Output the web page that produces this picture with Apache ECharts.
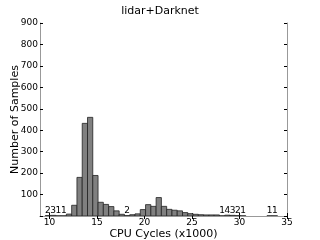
<!DOCTYPE html>
<html>
<head>
<meta charset="utf-8">
<script src="https://cdn.jsdelivr.net/npm/echarts@6/dist/echarts.min.js"></script>
<style>html,body{margin:0;padding:0;background:#fff}#c{width:320px;height:240px}</style>
</head>
<body>
<div id="c"></div>
<script>
// Histogram: 45 bins over [9, 34] (x1000 CPU cycles)
var binStart = 9;
var binEnd = 34;
var counts = [0, 2, 3, 1, 1, 9, 50, 180, 432, 460, 189, 64, 54, 44, 24, 8, 2, 6, 10, 30,
              53, 45, 86, 45, 31, 27, 24, 16, 11, 8, 6, 5, 5, 5, 1, 4, 3, 2, 1, 0,
              0, 0, 0, 1, 1];
var xTicks = [10, 15, 20, 25, 30, 35];
var yTicks = [100, 200, 300, 400, 500, 600, 700, 800, 900];
var titleText = 'lidar+Darknet';
var xName = 'CPU Cycles (x1000)';
var yName = 'Number of Samples';

var binW = (binEnd - binStart) / counts.length;
var data = counts.map(function (c, i) {
  return [binStart + i * binW, binStart + (i + 1) * binW, c];
});

var FONT = 'DejaVu Sans';
var frame = '#999999';

var chart = echarts.init(document.getElementById('c'), null, {renderer: 'canvas'});
chart.setOption({
  animation: false,
  title: {
    text: titleText, left: 'center', top: 1,
    textStyle: {fontFamily: FONT, fontSize: 11, fontWeight: 'normal', color: '#000'}
  },
  grid: {left: 40, right: 33, top: 23, bottom: 24, show: false, containLabel: false, outerBoundsMode: 'none'},
  xAxis: [{
    type: 'value', min: 9, max: 35, position: 'bottom',
    name: xName, nameLocation: 'middle', nameGap: 13, nameMoveOverlap: false,
    nameTextStyle: {fontFamily: FONT, fontSize: 11, color: '#000'},
    axisLine: {show: true, lineStyle: {color: frame, width: 1}},
    axisTick: {show: true, inside: true, length: 3, customValues: xTicks, lineStyle: {color: '#000'}},
    axisLabel: {customValues: xTicks, margin: 2, fontFamily: FONT, fontSize: 9, color: '#000'},
    splitLine: {show: false}
  }, {
    type: 'value', min: 9, max: 35, position: 'top',
    axisLine: {show: true, lineStyle: {color: frame, width: 1}},
    axisTick: {show: true, inside: true, length: 3, customValues: xTicks, lineStyle: {color: '#000'}},
    axisLabel: {show: false}, splitLine: {show: false}
  }],
  yAxis: [{
    type: 'value', min: 0, max: 900, interval: 100, position: 'left',
    name: yName, nameLocation: 'middle', nameGap: 19, nameMoveOverlap: false,
    nameTextStyle: {fontFamily: FONT, fontSize: 11, color: '#000'},
    axisLine: {show: true, lineStyle: {color: frame, width: 1}},
    axisTick: {show: true, inside: true, length: 3, lineStyle: {color: '#000'}},
    axisLabel: {customValues: yTicks, margin: 2, fontFamily: FONT, fontSize: 9, color: '#000'},
    splitLine: {show: false}
  }, {
    type: 'value', min: 0, max: 900, interval: 100, position: 'right',
    axisLine: {show: true, lineStyle: {color: frame, width: 1}},
    axisTick: {show: true, inside: true, length: 3, lineStyle: {color: '#000'}},
    axisLabel: {show: false}, splitLine: {show: false}
  }],
  series: [{
    type: 'custom',
    xAxisIndex: 0, yAxisIndex: 0,
    data: data,
    clip: true,
    renderItem: function (params, api) {
      var x0 = api.value(0), x1 = api.value(1), c = api.value(2);
      var p0 = api.coord([x0, 0]);
      var p1 = api.coord([x1, c]);
      var children = [];
      if (c > 0) {
        children.push({
          type: 'rect',
          shape: {x: p0[0], y: p1[1], width: p1[0] - p0[0], height: p0[1] - p1[1]},
          style: {fill: '#808080', stroke: '#222', lineWidth: 0.8}
        });
      }
      if (c > 0 && c < 5) {
        children.push({
          type: 'text',
          x: (p0[0] + p1[0]) / 2, y: p0[1] - 1,
          style: {text: String(c), fontFamily: FONT, fontSize: 9, fill: '#000',
                  align: 'center', verticalAlign: 'bottom'}
        });
      }
      return {type: 'group', children: children};
    }
  }]
});
</script>
</body>
</html>
